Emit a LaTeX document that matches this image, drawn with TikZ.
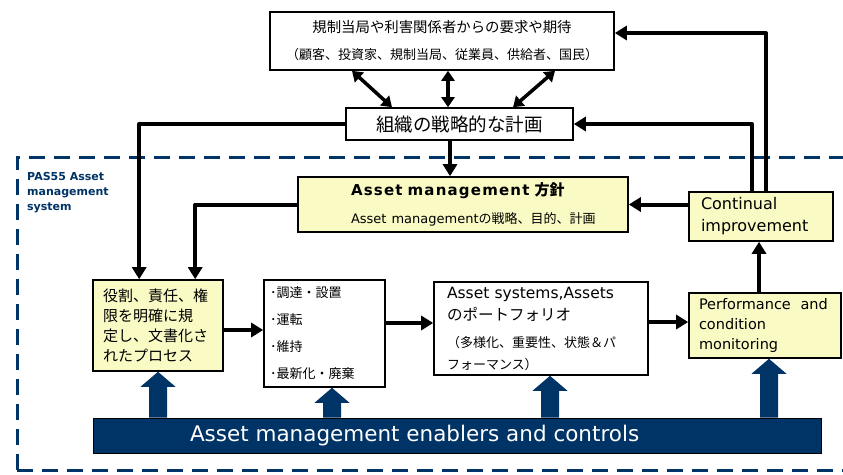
\documentclass[tikz,border=0pt]{standalone}
\usepackage{fontspec}
\setmainfont{DejaVu Sans}
\newfontfamily\jp{Noto Sans CJK JP}
\usetikzlibrary{arrows.meta,calc}
\definecolor{navy}{RGB}{0,51,102}
\definecolor{yel}{RGB}{250,250,196}
\newcommand\fsz[2]{\fontsize{#1}{#2}\selectfont}
% #1 = base node (bar), #2 = tip coordinate
\newcommand\blockup[2]{%
  \fill[navy] let \p1=(#1.north), \p2=#2 in
    (\x2-9pt,\y1) -- (\x2-9pt,\y2-15pt) -- (\x2-17.5pt,\y2-15pt) -- (\x2,\y2)
    -- (\x2+17.5pt,\y2-15pt) -- (\x2+9pt,\y2-15pt) -- (\x2+9pt,\y1) -- cycle;}
\begin{document}
\begin{tikzpicture}[x=1pt,y=-1pt,
  box/.style={draw=black, line width=1.6pt, fill=white, inner sep=0pt},
  ybox/.style={box, fill=yel},
  arr/.style={line width=4pt, line join=round, -{Triangle[length=12pt,width=14pt]}},
  darr/.style={line width=3.5pt, {Triangle[length=10pt,width=13pt]}-{Triangle[length=10pt,width=13pt]}},
  frame/.style={draw=navy, line width=3pt, dash pattern=on 16pt off 9pt}]
\useasboundingbox (0,0) rectangle (843,474);
\clip (0,0) rectangle (843,474);
\fill[white] (0,0) rectangle (843,474);

% dashed frame
\draw[frame] (17,470) -- (17,157) -- (850,157);
\draw[frame] (17,470) -- (850,470);
\node[anchor=north west, align=left, text=navy, inner sep=0pt,
      font=\bfseries\fsz{11}{15}] (pas) at (27,172) {PAS55 Asset\\management\\system};

% boxes
\node[box, minimum width=344pt, minimum height=58pt, align=center, font=\jp\fsz{14.4}{27}] (top) at (442,41)
  {規制当局や利害関係者からの要求や期待\\
   {\fontsize{13}{27}\selectfont（顧客、投資家、規制当局、従業員、供給者、国民）}};
\node[box, minimum width=227pt, minimum height=32pt, font=\jp\fsz{18.5}{20}] (plan) at (459.5,124)
  {組織の戦略的な計画};
\node[ybox, minimum width=330pt, minimum height=55pt, text width=224pt, inner xsep=53pt, align=left, font=\fsz{15}{28}] (am) at (463,204.5)
  {\mbox{\bfseries\addfontfeature{LetterSpace=8}Asset management {\jp 方針}}\\
   \mbox{\fontsize{13}{28}\selectfont Asset management{\jp の戦略、目的、計画}}};
\node[ybox, minimum width=144pt, minimum height=49pt, text width=120pt, inner xsep=12pt, align=left, font=\fsz{16}{22}] (cont) at (761,216.5)
  {Continual\\improvement};
\node[ybox, minimum width=130pt, minimum height=91pt, text width=110pt, inner xsep=10pt, align=left, font=\jp\fsz{15}{20}] (role) at (158,325.5)
  {役割、責任、権\\限を明確に規\\定し、文書化さ\\れたプロセス};
\node[box, minimum width=121pt, minimum height=107pt, text width=109pt, inner xsep=6pt, align=left, font=\jp\fsz{13}{27}] (proc) at (324.5,333.5)
  {･調達・設置\\･運転\\･維持\\･最新化・廃棄};
\node[box, minimum width=214pt, minimum height=93pt, text width=188pt, inner xsep=13pt, align=left, font=\fsz{15.5}{22}] (asys) at (541,328.5)
  {Asset systems,Assets\\{\jp のポートフォリオ}\\[5pt]
   {\jp\fontsize{13}{22}\selectfont（多様化、重要性、状態＆パ}\\{\jp\fontsize{13}{22}\selectfont フォーマンス）}};
\node[ybox, minimum width=152pt, minimum height=65pt, text width=132pt, inner xsep=10pt, align=left, font=\fsz{14.5}{20}] (perf) at (765,325.5)
  {Performance\ \ and\\condition\\monitoring};
\node[draw=black, line width=0.6pt, fill=navy, text=white, inner sep=0pt, minimum width=728pt, minimum height=35pt, font=\fsz{21.5}{22}] (bar) at (457,435.5)
  {\makebox[728pt][l]{\hspace*{97pt}Asset management enablers and controls}};

% connectors
\draw[darr] ([xshift=-90pt]top.south) -- ([xshift=-67.5pt]plan.north);
\draw[darr] ([xshift=6pt]top.south) -- ([xshift=6pt]top.south |- plan.north);
\draw[darr] ([xshift=113pt]top.south) -- ([xshift=53.5pt]plan.north);
\draw[arr] ([xshift=-9.5pt]plan.south) -- ([xshift=-9.5pt]plan.south |- am.north);
\draw[arr] (plan.west) -| ([xshift=47pt]role.north west);
\draw[arr] (am.west) -| ([xshift=103pt]role.north west);
\draw[arr] (cont.west |- am.east) -- (am.east);
\draw[arr] ([xshift=-9pt]cont.north) |- (plan.east);
\draw[arr] ([xshift=5pt]cont.north) |- ([yshift=8pt]top.east);
\draw[arr] ([yshift=-4.5pt]role.east) -- ([yshift=-4.5pt]role.east -| proc.west);
\draw[arr] ([yshift=10.5pt]proc.east) -- ([yshift=10.5pt]proc.east -| asys.west);
\draw[arr] ([yshift=6.5pt]asys.east) -- ([yshift=6.5pt]asys.east -| perf.west);
\draw[arr] ([xshift=-6pt]perf.north) -- ([xshift=-6pt]perf.north |- cont.south);

% block arrows
\blockup{bar}{(role.south)}
\blockup{bar}{([xshift=7.5pt]proc.south)}
\blockup{bar}{([xshift=9pt]asys.south)}
\blockup{bar}{([xshift=4pt]perf.south)}
\end{tikzpicture}
\end{document}
